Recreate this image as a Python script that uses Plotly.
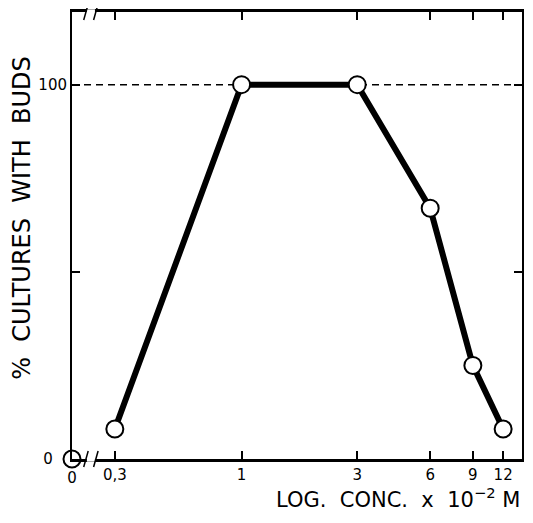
import plotly.graph_objects as go

conc = [0.3, 1, 3, 6, 9, 12]
pct_buds = [8, 100, 100, 67, 25, 8]
zero_conc = [0]
zero_pct = [0]
x_tickvals = [0.3, 1, 3, 6, 9, 12]
x_ticktext = ["0,3", "1", "3", "6", "9", "12"]
y_tickvals = [0, 100]
y_ticktext = ["0\u00a0\u00a0\u00a0", "100"]
y_minor_ticks = [50]

FONT = "DejaVu Sans"
SP = "\u00a0\u00a0"

fig = go.Figure()
fig.add_trace(go.Scatter(
    x=conc, y=pct_buds, mode="lines+markers",
    line=dict(color="black", width=6),
    marker=dict(size=17, color="white", line=dict(color="black", width=2)),
    cliponaxis=False, showlegend=False,
))
fig.add_trace(go.Scatter(
    x=zero_conc, y=zero_pct, mode="markers", xaxis="x2",
    marker=dict(size=17, color="white", line=dict(color="black", width=2)),
    cliponaxis=False, showlegend=False,
))

fig.add_shape(type="line", xref="paper", yref="y", x0=0, x1=1, y0=100, y1=100,
              line=dict(color="black", width=1.5, dash="7px,5px"), layer="below")

# axis break marks (bottom and top)
for yp in (0, 1):
    fig.add_shape(type="rect", xref="paper", yref="paper",
                  x0=0.033, x1=0.051, y0=yp - 0.006, y1=yp + 0.006,
                  line=dict(width=0), fillcolor="white")
    for xp in (0.031, 0.053):
        fig.add_shape(type="line", xref="paper", yref="paper",
                      x0=xp - 0.005, x1=xp + 0.005, y0=yp - 0.018, y1=yp + 0.018,
                      line=dict(color="black", width=1.5))

fig.update_layout(
    width=517, height=507,
    margin=dict(l=64, r=1, t=2, b=56),
    paper_bgcolor="white", plot_bgcolor="white",
    font=dict(family=FONT, color="black", size=15),
    xaxis=dict(
        type="log", range=[-0.6996, 1.157],
        tickvals=x_tickvals, ticktext=x_ticktext,
        ticks="inside", ticklen=8, tickwidth=1.5, tickcolor="black",
        showline=True, linecolor="black", linewidth=2.5, mirror="ticks",
        showgrid=False, zeroline=False,
        tickfont=dict(size=15, family=FONT),
    ),
    xaxis2=dict(
        overlaying="x", range=[0, 1], side="bottom",
        tickvals=[0], ticktext=["0"], ticks="", showline=False,
        showgrid=False, zeroline=False, tickfont=dict(size=15, family=FONT),
        ticklabelstandoff=8,
    ),
    yaxis=dict(
        range=[0, 119.4],
        tickvals=y_tickvals, ticktext=y_ticktext,
        ticks="inside", ticklen=8, tickwidth=1.5, tickcolor="black",
        minor=dict(tickvals=y_minor_ticks, ticks="inside", ticklen=8,
                   tickwidth=1.5, tickcolor="black", showgrid=False),
        showline=True, linecolor="black", linewidth=2, mirror="ticks",
        showgrid=False, zeroline=False,
        tickfont=dict(size=15, family=FONT),
    ),
    annotations=[
        dict(text=f"%{SP}CULTURES{SP}WITH{SP}BUDS", xref="paper", yref="paper",
             x=-0.113, y=0.54, xanchor="center", yanchor="middle", textangle=-90,
             showarrow=False, font=dict(size=24, family=FONT)),
        dict(text=f"LOG.{SP}CONC.{SP}x{SP}10<sup>−2</sup>\u00a0M", xref="paper", yref="paper",
             x=1.0, y=-0.087, xanchor="right", yanchor="middle",
             showarrow=False, font=dict(size=21, family=FONT)),
    ],
)

fig.write_html("out.html")
